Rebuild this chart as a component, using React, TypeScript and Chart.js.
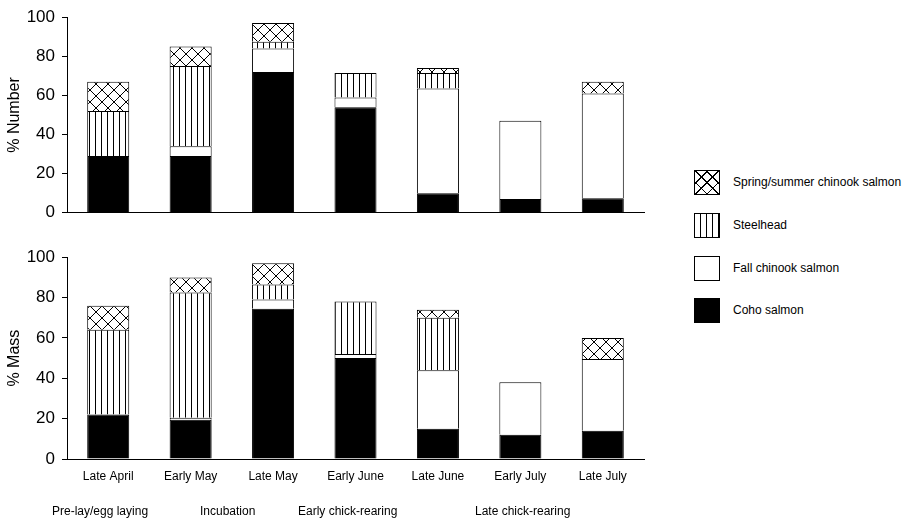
import React, { useEffect, useRef } from "react";
import { Chart, registerables } from "chart.js";
Chart.register(...registerables);

const categories = ["Late April", "Early May", "Late May", "Early June", "Late June", "Early July", "Late July"];
const numberCoho = [29, 29, 72, 54, 10, 7, 7.5];
const numberFall = [null, 5, 12, 5, 53.5, 40, 53.5];
const numberSteelhead = [23, 41, 3.5, 12.5, 8, null, null];
const numberSpring = [15, 10, 9.5, null, 2.5, null, 6];
const massCoho = [22, 19.5, 74.5, 50, 15, 12, 14];
const massFall = [null, 1, 4.5, 2, 29, 26, 35.5];
const massSteelhead = [42, 62, 7.5, 26, 26, null, null];
const massSpring = [12, 7.5, 10.5, null, 4, null, 10.5];
const yTicks = [0, 20, 40, 60, 80, 100];
const seriesNames = ["Spring/summer chinook salmon", "Steelhead", "Fall chinook salmon", "Coho salmon"];
const phases = ["Pre-lay/egg laying", "Incubation", "Early chick-rearing", "Late chick-rearing"];

const FONT = "'Liberation Sans', Arial, sans-serif";

function stripePattern(): CanvasPattern | string {
  const c = document.createElement("canvas");
  c.width = 6;
  c.height = 6;
  const g = c.getContext("2d")!;
  g.fillStyle = "#fff";
  g.fillRect(0, 0, 6, 6);
  g.fillStyle = "#000";
  g.fillRect(5, 0, 1, 6);
  return g.createPattern(c, "repeat") || "#fff";
}

function crossPattern(): CanvasPattern | string {
  const s = 12;
  const c = document.createElement("canvas");
  c.width = s;
  c.height = s;
  const g = c.getContext("2d")!;
  g.fillStyle = "#fff";
  g.fillRect(0, 0, s, s);
  g.strokeStyle = "#000";
  g.lineWidth = 1;
  g.beginPath();
  g.moveTo(0, 0);
  g.lineTo(s, s);
  g.moveTo(s, 0);
  g.lineTo(0, s);
  g.stroke();
  return g.createPattern(c, "repeat") || "#fff";
}

type PanelProps = {
  coho: (number | null)[];
  fall: (number | null)[];
  steel: (number | null)[];
  spring: (number | null)[];
  title: string;
  showLabels: boolean;
  top: number;
  height: number;
  padTop: number;
  xAxisHeight: number;
};

function Panel(p: PanelProps) {
  const ref = useRef<HTMLCanvasElement>(null);
  useEffect(() => {
    const stripes = stripePattern();
    const cross = crossPattern();
    const common = { borderColor: "#000", borderWidth: 1, barPercentage: 0.51, categoryPercentage: 1 };
    const chart = new Chart(ref.current!, {
      type: "bar",
      data: {
        labels: categories,
        datasets: [
          { label: seriesNames[3], data: p.coho, backgroundColor: "#000", ...common },
          { label: seriesNames[2], data: p.fall, backgroundColor: "#fff", ...common },
          { label: seriesNames[1], data: p.steel, backgroundColor: stripes as any, ...common },
          { label: seriesNames[0], data: p.spring, backgroundColor: cross as any, ...common },
        ] as any,
      },
      options: {
        responsive: false,
        animation: false,
        layout: { padding: { top: p.padTop, right: 16, left: 0, bottom: 0 } },
        plugins: { legend: { display: false }, tooltip: { enabled: false } },
        scales: {
          x: {
            stacked: true,
            grid: { display: false, drawTicks: false },
            border: { display: true, color: "#000", width: 1 },
            ticks: {
              display: p.showLabels,
              color: "#000",
              font: { family: FONT, size: 12 },
              padding: 10,
              maxRotation: 0,
              autoSkip: false,
            },
            afterFit: (s: any) => {
              s.height = p.xAxisHeight;
            },
          },
          y: {
            stacked: true,
            min: 0,
            max: 100,
            afterBuildTicks: (s: any) => {
              s.ticks = yTicks.map((v) => ({ value: v }));
            },
            grid: { display: true, drawOnChartArea: false, drawTicks: true, tickLength: 5, color: "#000" },
            border: { display: true, color: "#000", width: 1 },
            ticks: { color: "#000", font: { family: FONT, size: 17 }, padding: 7 },
            title: {
              display: true,
              text: p.title,
              color: "#000",
              font: { family: FONT, size: 16 },
              padding: { top: 5, bottom: 0 },
            },
            afterFit: (s: any) => {
              s.width = 67;
            },
          },
        },
      },
    });
    return () => chart.destroy();
  }, []);
  return (
    <canvas
      ref={ref}
      width={660}
      height={p.height}
      style={{ position: "absolute", left: 0, top: p.top, width: 660, height: p.height }}
    />
  );
}

const legendSwatches: React.CSSProperties[] = [
  {
    background:
      "repeating-linear-gradient(45deg, #000 0 1px, transparent 1px 8px), repeating-linear-gradient(-45deg, #000 0 1px, #fff 1px 8px)",
  },
  { background: "repeating-linear-gradient(90deg, #fff 0 5px, #000 5px 6px)" },
  { background: "#fff" },
  { background: "#000" },
];
const legendY = [182, 225, 268, 310];
const phaseX = [52, 200, 298, 475];

export default function App() {
  return (
    <div
      style={{
        position: "absolute",
        left: 0,
        top: 0,
        width: 907,
        height: 519,
        background: "#fff",
        fontFamily: FONT,
        color: "#000",
        overflow: "hidden",
      }}
    >
      <Panel
        coho={numberCoho}
        fall={numberFall}
        steel={numberSteelhead}
        spring={numberSpring}
        title="% Number"
        showLabels={false}
        top={0}
        height={230}
        padTop={14}
        xAxisHeight={14}
      />
      <Panel
        coho={massCoho}
        fall={massFall}
        steel={massSteelhead}
        spring={massSpring}
        title="% Mass"
        showLabels={true}
        top={240}
        height={279}
        padTop={17}
        xAxisHeight={60}
      />
      {seriesNames.map((name, i) => (
        <div key={name}>
          <div
            style={{
              position: "absolute",
              left: 694,
              top: legendY[i] - 12,
              width: 24,
              height: 23,
              border: "1px solid #000",
              ...legendSwatches[i],
            }}
          />
          <div
            style={{
              position: "absolute",
              left: 733,
              top: legendY[i] - 8,
              fontSize: 12,
              lineHeight: "16px",
              whiteSpace: "nowrap",
            }}
          >
            {name}
          </div>
        </div>
      ))}
      {phases.map((ph, i) => (
        <div
          key={ph}
          style={{
            position: "absolute",
            left: phaseX[i],
            top: 503,
            fontSize: 12,
            lineHeight: "16px",
            whiteSpace: "nowrap",
          }}
        >
          {ph}
        </div>
      ))}
    </div>
  );
}
